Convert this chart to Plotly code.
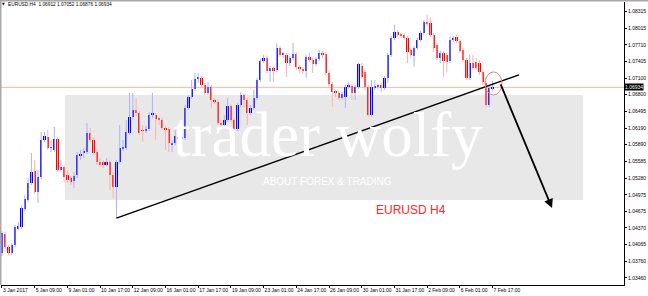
import plotly.graph_objects as go

open_ = [1.03910,1.04257,1.04020,1.03910,1.04057,1.04367,1.04385,1.04714,1.04878,1.05188,
         1.05408,1.05024,1.05298,1.05974,1.06028,1.05828,1.05791,1.05992,1.05426,1.05480,
         1.05334,1.05279,1.05225,1.05334,1.05700,1.05736,1.05754,1.06101,1.05974,1.05754,
         1.05571,1.05571,1.05535,1.05571,1.05334,1.05115,1.05571,1.05809,1.05828,1.06101,
         1.06394,1.06521,1.06466,1.06156,1.06156,1.06174,1.06430,1.06430,1.06357,1.06339,
         1.06193,1.06174,1.05882,1.05919,1.06028,1.06010,1.06010,1.06558,1.06759,1.06905,
         1.07087,1.07105,1.06978,1.06832,1.06942,1.06704,1.06667,1.06284,1.06247,1.06339,
         1.06594,1.06339,1.06174,1.06613,1.06795,1.06704,1.06466,1.06558,1.06741,1.07069,
         1.07416,1.07471,1.07234,1.07288,1.07252,1.07654,1.07526,1.07526,1.07379,1.07471,
         1.07544,1.07306,1.07270,1.07234,1.07489,1.07434,1.07361,1.07452,1.07562,1.07544,
         1.07197,1.06996,1.06850,1.06832,1.06741,1.06759,1.06942,1.06960,1.06832,1.06942,
         1.07324,1.07215,1.06942,1.06430,1.06923,1.06942,1.06978,1.06923,1.07105,1.07526,
         1.07837,1.07946,1.07891,1.07891,1.07837,1.07617,1.07507,1.07654,1.07800,1.07928,
         1.08128,1.08110,1.07891,1.07709,1.07471,1.07562,1.07526,1.07416,1.07800,1.07855,
         1.07782,1.07617,1.07434,1.07105,1.07379,1.07397,1.07379,1.07215,1.07014,1.06613,
         1.06912]
high = [1.04312,1.04293,1.04057,1.04093,1.04422,1.04476,1.04786,1.04969,1.05279,1.05736,
        1.05608,1.05426,1.06119,1.06119,1.06156,1.05974,1.06211,1.06028,1.05608,1.05517,
        1.05426,1.05316,1.05389,1.05754,1.05791,1.05828,1.06284,1.06193,1.06028,1.05791,
        1.05645,1.05608,1.05645,1.05608,1.05389,1.05608,1.06247,1.05974,1.06339,1.06832,
        1.06832,1.06741,1.06503,1.06247,1.06229,1.06485,1.06832,1.06466,1.06394,1.06375,
        1.06229,1.06211,1.05974,1.06156,1.06101,1.06083,1.06613,1.06795,1.07069,1.07197,
        1.07197,1.07160,1.07014,1.07032,1.06978,1.06741,1.06704,1.06339,1.06430,1.06741,
        1.06631,1.06375,1.06649,1.06850,1.06832,1.06741,1.06613,1.06887,1.07105,1.07452,
        1.07526,1.07507,1.07325,1.07325,1.07745,1.07690,1.07581,1.07562,1.07507,1.07745,
        1.07581,1.07343,1.07306,1.07526,1.07562,1.07471,1.07489,1.07617,1.07599,1.07581,
        1.07234,1.07032,1.06887,1.06869,1.06850,1.06978,1.07032,1.06996,1.06978,1.07379,
        1.07379,1.07252,1.06978,1.07069,1.07069,1.06996,1.07014,1.07142,1.07562,1.07873,
        1.08074,1.07982,1.07928,1.07928,1.07873,1.07654,1.07690,1.07837,1.07964,1.08165,
        1.08256,1.08201,1.07928,1.07745,1.07599,1.07599,1.07562,1.07855,1.07873,1.07891,
        1.07818,1.07654,1.07471,1.07526,1.07526,1.07471,1.07434,1.07252,1.07051,1.06978,
        1.07052]
low = [1.03855,1.03984,1.03874,1.03874,1.04020,1.04330,1.04348,1.04677,1.04841,1.05152,
       1.04988,1.04823,1.05261,1.05937,1.05791,1.05754,1.05754,1.05389,1.05389,1.05206,
       1.05188,1.05152,1.05097,1.05279,1.05608,1.05645,1.05718,1.05937,1.05700,1.05517,
       1.05480,1.05462,1.05499,1.05061,1.04914,1.04549,1.05535,1.05773,1.05791,1.06065,
       1.06357,1.06412,1.06065,1.05937,1.06101,1.06138,1.06375,1.05974,1.06247,1.06156,
       1.05791,1.05754,1.05754,1.05882,1.05974,1.05974,1.05974,1.06521,1.06722,1.06869,
       1.07014,1.06942,1.06795,1.06795,1.06558,1.06631,1.06247,1.06193,1.06211,1.06302,
       1.06302,1.06156,1.06138,1.06576,1.06558,1.06247,1.06430,1.06521,1.06704,1.07032,
       1.07379,1.07197,1.07032,1.07032,1.07215,1.07489,1.07471,1.07124,1.07324,1.07434,
       1.07252,1.07197,1.07179,1.07105,1.07397,1.07197,1.07324,1.07416,1.07471,1.07160,
       1.06942,1.06576,1.06759,1.06704,1.06704,1.06558,1.06905,1.06704,1.06704,1.06905,
       1.07087,1.06887,1.06394,1.06394,1.06887,1.06905,1.06850,1.06887,1.07014,1.07489,
       1.07800,1.07855,1.07837,1.07800,1.07379,1.07471,1.07306,1.07617,1.07763,1.07891,
       1.08055,1.07855,1.07580,1.07434,1.07379,1.07124,1.07215,1.07379,1.07763,1.07745,
       1.07562,1.07397,1.07069,1.07069,1.07252,1.07252,1.07160,1.06978,1.06576,1.06576,
       1.06876]
close = [1.04275,1.04020,1.03910,1.04057,1.04385,1.04403,1.04732,1.04896,1.05188,1.05389,
         1.05024,1.05298,1.05974,1.06046,1.05828,1.05846,1.05992,1.05426,1.05480,1.05298,
         1.05243,1.05206,1.05316,1.05700,1.05718,1.05773,1.06101,1.05974,1.05736,1.05571,
         1.05535,1.05517,1.05571,1.05334,1.05115,1.05571,1.05828,1.05846,1.06119,1.06394,
         1.06521,1.06466,1.06101,1.06138,1.06174,1.06430,1.06448,1.06357,1.06339,1.06193,
         1.06156,1.05919,1.05919,1.06046,1.06010,1.06028,1.06558,1.06759,1.06905,1.07087,
         1.07105,1.06978,1.06832,1.06942,1.06704,1.06667,1.06284,1.06247,1.06339,1.06594,
         1.06339,1.06174,1.06613,1.06795,1.06704,1.06466,1.06558,1.06741,1.07069,1.07416,
         1.07471,1.07234,1.07288,1.07234,1.07654,1.07526,1.07544,1.07379,1.07471,1.07544,
         1.07306,1.07270,1.07234,1.07489,1.07434,1.07361,1.07452,1.07562,1.07526,1.07197,
         1.06996,1.06850,1.06832,1.06741,1.06814,1.06942,1.06960,1.06832,1.06942,1.07361,
         1.07124,1.06942,1.06430,1.06942,1.06942,1.06960,1.06923,1.07105,1.07526,1.07837,
         1.07946,1.07891,1.07873,1.07837,1.07580,1.07526,1.07654,1.07800,1.07928,1.08128,
         1.08092,1.07891,1.07654,1.07471,1.07562,1.07416,1.07397,1.07800,1.07837,1.07782,
         1.07599,1.07434,1.07105,1.07379,1.07288,1.07288,1.07215,1.07032,1.06613,1.06923,
         1.06934]

x_tick_bars = [0, 10, 20, 30, 40, 50, 60, 70, 80, 90, 100, 110, 120, 130, 140, 150]
x_tick_labels = ["3 Jan 2017", "5 Jan 09:00", "9 Jan 01:00", "10 Jan 17:00", "12 Jan 09:00",
                 "16 Jan 01:00", "17 Jan 17:00", "19 Jan 09:00", "23 Jan 01:00", "24 Jan 17:00",
                 "26 Jan 09:00", "30 Jan 01:00", "31 Jan 17:00", "2 Feb 09:00", "6 Feb 01:00",
                 "7 Feb 17:00"]
y_ticks = [1.08315, 1.08015, 1.07710, 1.07405, 1.07100, 1.06800, 1.06495, 1.06190, 1.05890,
           1.05585, 1.05280, 1.04975, 1.04675, 1.04370, 1.04065, 1.03760, 1.03460]
y_tick_labels = ["%.5f" % v for v in y_ticks]

last_price = close[-1]
header = "EURUSD,H4  %.5f %.5f %.5f %.5f" % (open_[-1], high[-1], low[-1], close[-1])

# trendline anchor: low of 10 Jan 17:00 bar, end near the last candles
trend_x = [35, 158.1]
trend_y = [low[35], 1.07161]
arrow_from = (152.3, 1.07014)
arrow_to = (168.2, 1.04732)

idx = list(range(len(close)))
up_col, dn_col = "#0000ff", "#ff0000"
up_wick, dn_wick = "#aeb0ff", "#ffb0b0"

fig = go.Figure()
for is_up, col in ((True, up_wick), (False, dn_wick)):
    wx, wy = [], []
    for i in idx:
        if (close[i] >= open_[i]) == is_up:
            wx += [i, i, None]
            wy += [low[i], high[i], None]
    fig.add_trace(go.Scatter(x=wx, y=wy, mode="lines", line=dict(color=col, width=1),
                             hoverinfo="skip", showlegend=False))

base = [min(o, c) for o, c in zip(open_, close)]
hgt = [max(abs(c - o), 0.00014) for o, c in zip(open_, close)]
cols = [up_col if c >= o else dn_col for o, c in zip(open_, close)]
fig.add_trace(go.Bar(x=idx, y=hgt, base=base, marker=dict(color=cols, line=dict(width=0)),
                     width=0.7, showlegend=False))

L, R, T, B = 1, 24, 2, 11
PW, PH = 648 - L - R, 296 - T - B
def px(xp):
    return (xp - L) / PW
def py(yp):
    return (296 - B - yp) / PH

shapes = [
    dict(type="rect", xref="paper", yref="paper", x0=px(65), x1=px(583), y0=py(200), y1=py(95),
         fillcolor="#e8e8e8", line=dict(width=0), layer="below"),
    dict(type="line", xref="paper", yref="y", x0=0, x1=1, y0=last_price, y1=last_price,
         line=dict(color="#f6b9a2", width=1), layer="below"),
    dict(type="line", xref="x", yref="y", x0=trend_x[0], y0=trend_y[0], x1=trend_x[1], y1=trend_y[1],
         line=dict(color="#000000", width=1.4)),
    dict(type="circle", xref="x", yref="y", x0=147.7, x1=152.9, y0=1.06795, y1=1.07215,
         line=dict(color="#ee8080", width=1)),
    dict(type="line", xref="paper", yref="paper", x0=px(0.5), x1=px(0.5), y0=0, y1=py(0),
         line=dict(color="#a8a8a8", width=2)),
    dict(type="line", xref="paper", yref="paper", x0=px(0), x1=px(648), y0=py(0.5), y1=py(0.5),
         line=dict(color="#a8a8a8", width=2)),
]

annotations = [
    dict(xref="paper", yref="paper", x=px(6), y=py(4.5), text=header, showarrow=False,
         xanchor="left", yanchor="middle", font=dict(family="Liberation Sans", size=4.8, color="#000")),
    dict(xref="paper", yref="paper", x=px(3), y=py(4.5), text="▼", showarrow=False,
         xanchor="center", yanchor="middle", font=dict(family="DejaVu Sans", size=3.5, color="#000")),
    dict(xref="paper", yref="paper", x=px(328), y=py(135), text="trader wolfy", showarrow=False,
         xanchor="center", yanchor="middle",
         font=dict(family="Liberation Serif", size=63, color="#ffffff")),
    dict(xref="paper", yref="paper", x=px(327), y=py(181), text="ABOUT FOREX &amp; TRADING", showarrow=False,
         xanchor="center", yanchor="middle",
         font=dict(family="Liberation Sans", size=10, color="#ffffff")),
    dict(xref="paper", yref="paper", x=px(411), y=py(210), text="EURUSD H4", showarrow=False,
         xanchor="center", yanchor="middle",
         font=dict(family="Liberation Sans", size=12, color="#ff2626")),
    dict(xref="paper", yref="y", x=1, y=last_price, text="%.5f" % last_price, showarrow=False,
         xanchor="left", yanchor="middle", bgcolor="#000000", borderpad=0,
         font=dict(family="Liberation Sans", size=5, color="#ffffff")),
    dict(xref="x", yref="y", x=arrow_to[0], y=arrow_to[1], axref="x", ayref="y",
         ax=arrow_from[0], ay=arrow_from[1], text="", showarrow=True, arrowhead=2,
         arrowsize=1, arrowwidth=1.8, arrowcolor="#000000"),
]

fig.update_layout(
    width=648, height=296, margin=dict(l=L, r=R, t=T, b=B),
    paper_bgcolor="#ffffff", plot_bgcolor="#ffffff", showlegend=False, bargap=0,
    shapes=shapes, annotations=annotations,
    xaxis=dict(range=[-0.3, 190.2], tickvals=x_tick_bars, ticktext=x_tick_labels, tickangle=0,
               ticklabelposition="outside right", tickfont=dict(family="Liberation Sans", size=5, color="#000"),
               showline=True, linecolor="#000000", linewidth=1, ticks="outside", ticklen=2,
               tickcolor="#000000", showgrid=False, zeroline=False, fixedrange=True),
    yaxis=dict(range=[1.0333, 1.0849], side="right", tickvals=y_ticks, ticktext=y_tick_labels,
               tickfont=dict(family="Liberation Sans", size=5, color="#000"),
               showline=True, linecolor="#000000", linewidth=1, ticks="outside", ticklen=2,
               tickcolor="#000000", showgrid=False, zeroline=False, fixedrange=True),
)

fig.write_html("out.html")
